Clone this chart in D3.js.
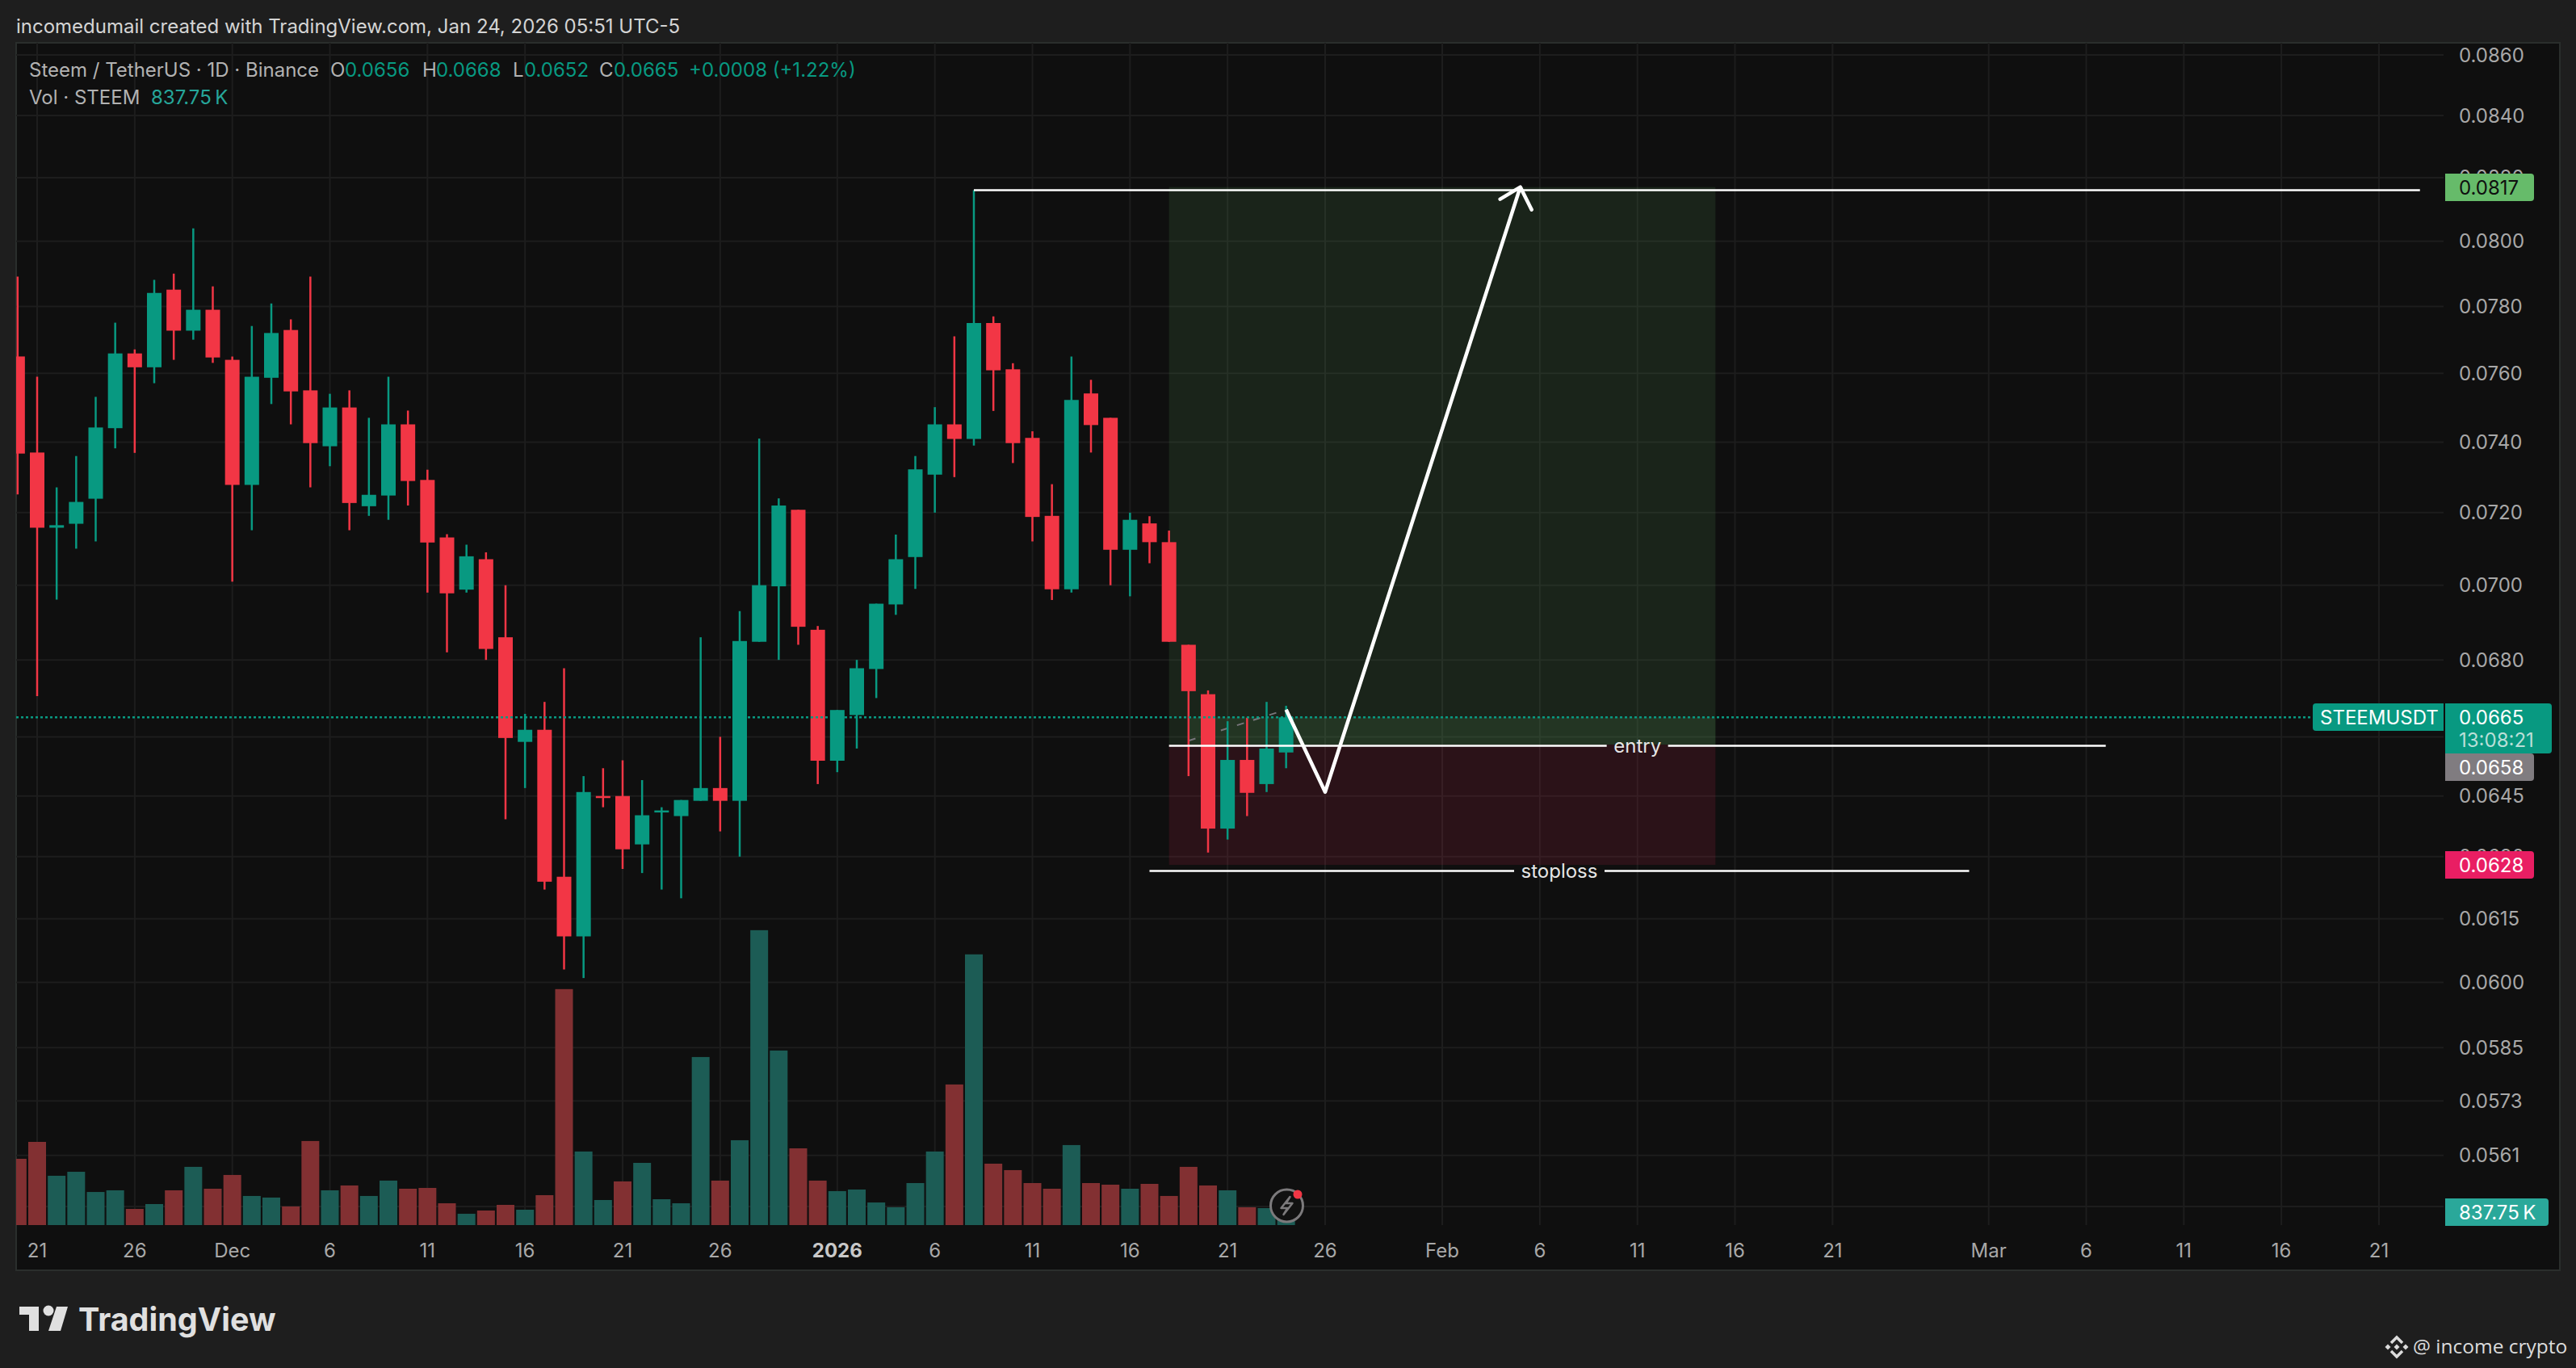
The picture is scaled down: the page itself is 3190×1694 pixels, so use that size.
<!DOCTYPE html>
<html>
<head>
<meta charset="utf-8">
<title>STEEMUSDT</title>
<script src="https://cdnjs.cloudflare.com/ajax/libs/d3/7.8.5/d3.min.js"></script>
<style>
html,body{margin:0;padding:0;background:#1e1e1e;}
svg{display:block;}
text{font-family:Inter,"Noto Sans",sans-serif;}
</style>
</head>
<body>
<svg id="chart" width="3190" height="1694"></svg>
<script>
// candles start one bar before Nov 21 (day -1), so day = index - 1
var opens = [0.0765,0.0737,0.07158,0.07169,0.07239,0.0744,0.07659,0.07618,0.07851,0.07727,0.0779,0.0764,0.07278,0.07587,0.07729,0.0755,0.07388,0.075,0.07218,0.07248,0.07451,0.07292,0.07131,0.06988,0.07071,0.0686,0.06587,0.06618,0.06251,0.06108,0.0645,0.0645,0.0633,0.0641,0.064,0.06438,0.0647,0.06438,0.06848,0.06997,0.07208,0.0688,0.06539,0.06656,0.06776,0.06948,0.07077,0.07307,0.07451,0.07409,0.0775,0.07612,0.07412,0.07191,0.06989,0.07541,0.0747,0.07097,0.0717,0.07118,0.0684,0.0671,0.06369,0.06541,0.0648,0.0656];
var highs = [0.07891,0.0759,0.07271,0.0736,0.07531,0.07751,0.07671,0.07881,0.079,0.0804,0.07861,0.0765,0.07741,0.07809,0.07761,0.07891,0.0754,0.0755,0.0747,0.0759,0.07491,0.07321,0.0714,0.07111,0.0709,0.07,0.06659,0.0669,0.06778,0.065,0.0652,0.0654,0.0649,0.06422,0.0644,0.0686,0.066,0.0693,0.0741,0.0724,0.07208,0.0689,0.06669,0.068,0.0695,0.07139,0.0736,0.07501,0.0771,0.0816,0.0777,0.0763,0.07431,0.0728,0.0765,0.07581,0.0747,0.072,0.0719,0.0715,0.0684,0.0672,0.0664,0.06649,0.0669,0.0668];
var lows = [0.07251,0.06705,0.06961,0.071,0.0712,0.07382,0.07369,0.07571,0.0764,0.077,0.07631,0.0701,0.07151,0.0751,0.07451,0.07271,0.07331,0.07151,0.07191,0.0718,0.0722,0.0698,0.0682,0.0698,0.068,0.06392,0.0647,0.0622,0.0603,0.0601,0.06422,0.0627,0.0626,0.0622,0.06199,0.06438,0.06362,0.063,0.06848,0.068,0.0684,0.0648,0.0651,0.0657,0.067,0.0692,0.0699,0.072,0.073,0.0739,0.0749,0.0734,0.0712,0.0696,0.0698,0.0737,0.07,0.0697,0.0706,0.06848,0.065,0.0631,0.06342,0.064,0.0646,0.0652];
var closes = [0.07367,0.07158,0.07165,0.0723,0.07442,0.07659,0.07618,0.07841,0.07727,0.0779,0.07647,0.07278,0.0759,0.0772,0.07547,0.07397,0.075,0.07227,0.0725,0.07451,0.07289,0.07117,0.06978,0.07079,0.06829,0.06597,0.06618,0.06239,0.06108,0.0646,0.0645,0.06318,0.06402,0.06414,0.0644,0.0647,0.06438,0.0685,0.07,0.0722,0.06888,0.06539,0.06669,0.06778,0.0695,0.07071,0.07322,0.07451,0.07409,0.0775,0.07609,0.07397,0.07188,0.06989,0.07522,0.07449,0.07097,0.0718,0.07118,0.06848,0.06718,0.06369,0.06541,0.06458,0.0657,0.0665];
var volumes = [4166,5230,3100,3350,2080,2185,1015,1320,2185,3660,2285,3150,1830,1730,1170,5285,2185,2490,1830,2795,2285,2335,1370,710,915,1270,965,1880,14835,4625,1575,2745,3910,1625,1370,10565,2795,5335,18540,10975,4825,2795,2135,2235,1420,1120,2640,4625,8840,17020,3860,3455,2640,2285,5030,2640,2540,2285,2590,1830,3660,2490,2185,1120,1065,837.75];

var priceTicks = [0.086,0.084,0.082,0.08,0.078,0.076,0.074,0.072,0.07,0.068,0.066,0.0645,0.063,0.0615,0.06,0.0585,0.0573,0.0561,0.055];
// 0.0660 and 0.0550 have grid lines but their labels sit fully under the price boxes
var priceLabels = [0.086,0.084,0.082,0.08,0.078,0.076,0.074,0.072,0.07,0.068,0.0645,0.063,0.0615,0.06,0.0585,0.0573,0.0561];
var dayTicks = [0,5,10,15,20,25,30,35,41,46,51,56,61,66,72,77,82,87,92,100,105,110,115,120];
var dayLabels = ['21','26','Dec','6','11','16','21','26','2026','6','11','16','21','26','Feb','6','11','16','21','Mar','6','11','16','21'];

var lastPrice = 0.0665;
var targetPrice = 0.0817;
var entryPrice = 0.0658;
var stopPrice = 0.0628;
var positionDays = [58,86];
var targetLineDays = [48,122.1];
var entryLineDays = [58,106];
var stopLineDays = [57,99];
var arrowDays = [64,66,76];
var arrowPrices = [0.0667,0.0646,0.0817];
var ghostDays = [59,64];
var ghostPrices = [0.0659,0.0667];

var legendParts = [
    ['Steem / TetherUS \u00b7 1D \u00b7 Binance',36,'#b2b2b2'],
    ['O',409,'#b2b2b2'],['0.0656',427,'#089981'],
    ['H',523,'#b2b2b2'],['0.0668',540,'#089981'],
    ['L',635,'#b2b2b2'],['0.0652',649,'#089981'],
    ['C',742,'#b2b2b2'],['0.0665',760,'#089981'],
    ['+0.0008 (+1.22%)',853,'#089981']
];

var green = '#089981', red = '#f23645', volGreen = '#1c5c55', volRed = '#823032';
var gridColor = '#1d1d1d', paneColor = '#0f0f0f', textColor = '#a8a8a8';

var paneLeft = 20, paneTop = 53, paneRight = 3170, paneBottom = 1573;
var plotRight = 3026, plotBottom = 1517;

var x = d3.scaleLinear().domain([0,120]).range([46,2946]);
var y = d3.scaleLog().domain([0.086,0.055]).range([68,1494]);
var volH = d3.scaleLinear().domain([0,837.75]).range([0,16.5]);

var svg = d3.select('#chart');

svg.append('rect').attr('width',3190).attr('height',1694).attr('fill','#1e1e1e');
svg.append('text').attr('x',20).attr('y',41).attr('font-size',24).attr('fill','#d4d4d4')
    .text('incomedumail created with TradingView.com, Jan 24, 2026 05:51 UTC-5');

svg.append('rect')
    .attr('x',paneLeft).attr('y',paneTop)
    .attr('width',paneRight-paneLeft).attr('height',paneBottom-paneTop)
    .attr('fill',paneColor).attr('stroke','#2a2e2c').attr('stroke-width',2);

svg.append('clipPath').attr('id','plotClip').append('rect')
    .attr('x',paneLeft).attr('y',paneTop)
    .attr('width',plotRight-paneLeft).attr('height',plotBottom-paneTop);

var plot = svg.append('g').attr('clip-path','url(#plotClip)');

plotGrid();
plotPosition();
plotVolume();
plotGhost();
plotCandles();
plotDrawings();
plotAxisLabels();
plotLegend();
plotFooter();

function plotGrid(){
    plot.selectAll('.hgrid')
        .data(priceTicks)
        .join('line')
        .attr('class','hgrid')
        .attr('x1',paneLeft).attr('x2',plotRight)
        .attr('y1',d => y(d)).attr('y2',d => y(d))
        .attr('stroke',gridColor).attr('stroke-width',2);
    plot.selectAll('.vgrid')
        .data(dayTicks)
        .join('line')
        .attr('class','vgrid')
        .attr('x1',d => x(d)).attr('x2',d => x(d))
        .attr('y1',paneTop).attr('y2',plotBottom)
        .attr('stroke',gridColor).attr('stroke-width',2);
}

function plotPosition(){
    var left = x(positionDays[0]), right = x(positionDays[1]);
    plot.append('rect')
        .attr('x',left).attr('width',right-left)
        .attr('y',y(targetPrice)).attr('height',y(entryPrice)-y(targetPrice))
        .attr('fill','rgb(85,145,85)').attr('fill-opacity',0.17);
    plot.append('rect')
        .attr('x',left).attr('width',right-left)
        .attr('y',y(entryPrice)).attr('height',y(stopPrice)-y(entryPrice))
        .attr('fill','rgb(255,40,90)').attr('fill-opacity',0.117);
    // brighter part between the entry and the last price
    plot.append('rect')
        .attr('x',x(59)).attr('width',right-x(59))
        .attr('y',y(lastPrice)).attr('height',y(entryPrice)-y(lastPrice))
        .attr('fill','rgb(85,145,85)').attr('fill-opacity',0.17);
}

function plotVolume(){
    plot.selectAll('.vol')
        .data(volumes)
        .join('rect')
        .attr('class','vol')
        .attr('x',(d,i) => x(i-1)-11)
        .attr('width',22)
        .attr('y',d => plotBottom-volH(d))
        .attr('height',d => volH(d))
        .attr('fill',(d,i) => closes[i] >= opens[i] ? volGreen : volRed);
}

function plotGhost(){
    plot.append('line')
        .attr('x1',x(ghostDays[0])).attr('x2',x(ghostDays[1]))
        .attr('y1',y(ghostPrices[0])).attr('y2',y(ghostPrices[1]))
        .attr('stroke','#77757a').attr('stroke-width',2)
        .attr('stroke-dasharray','9 12');
}

function candleColor(i){
    if(closes[i] > opens[i]) return green;
    if(closes[i] < opens[i]) return red;
    return i > 0 && closes[i] >= closes[i-1] ? green : red;
}

function plotCandles(){
    plot.selectAll('.wick')
        .data(opens)
        .join('line')
        .attr('class','wick')
        .attr('x1',(d,i) => x(i-1)).attr('x2',(d,i) => x(i-1))
        .attr('y1',(d,i) => y(highs[i])).attr('y2',(d,i) => y(lows[i]))
        .attr('stroke',(d,i) => candleColor(i)).attr('stroke-width',2.5);
    plot.selectAll('.body')
        .data(opens)
        .join('rect')
        .attr('class','body')
        .attr('x',(d,i) => x(i-1)-9)
        .attr('width',18)
        .attr('y',(d,i) => y(Math.max(opens[i],closes[i])))
        .attr('height',(d,i) => Math.max(2.5,Math.abs(y(opens[i])-y(closes[i]))))
        .attr('fill',(d,i) => candleColor(i));
    plot.append('line')
        .attr('x1',paneLeft).attr('x2',2862)
        .attr('y1',y(lastPrice)).attr('y2',y(lastPrice))
        .attr('stroke',green).attr('stroke-width',2.5)
        .attr('stroke-dasharray','3 3');
}

function labelledLine(days,price,label,gap){
    var x1 = x(days[0]), x2 = x(days[1]), mid = (x1+x2)/2, py = y(price);
    [[x1,mid-gap],[mid+gap,x2]].forEach(function(seg){
        plot.append('line')
            .attr('x1',seg[0]).attr('x2',seg[1])
            .attr('y1',py).attr('y2',py)
            .attr('stroke','#fff').attr('stroke-width',2.5);
    });
    plot.append('text')
        .attr('x',mid).attr('y',py+8)
        .attr('text-anchor','middle')
        .attr('font-size',24).attr('fill','#e6e6e6')
        .text(label);
}

function plotDrawings(){
    plot.append('line')
        .attr('x1',x(targetLineDays[0])).attr('x2',x(targetLineDays[1]))
        .attr('y1',y(0.0816)).attr('y2',y(0.0816))
        .attr('stroke','#fff').attr('stroke-width',2.5);
    labelledLine(entryLineDays,0.06577,'entry',38);
    labelledLine(stopLineDays,0.06265,'stoploss',56);

    var line = d3.line().x(d => x(d[0])).y(d => y(d[1]));
    var pts = arrowDays.map((d,i) => [d,arrowPrices[i]]);
    plot.append('path')
        .attr('d',line(pts))
        .attr('fill','none').attr('stroke','#fff')
        .attr('stroke-width',4.5).attr('stroke-linejoin','round');
    // arrow head, sized in pixels from the tip
    var tipX = x(arrowDays[2]), tipY = y(arrowPrices[2]);
    plot.append('path')
        .attr('d',d3.line()([[tipX-25,tipY+15],[tipX,tipY],[tipX+14,tipY+28]]))
        .attr('fill','none').attr('stroke','#fff')
        .attr('stroke-width',4.5).attr('stroke-linecap','round').attr('stroke-linejoin','round');
}

function priceBox(left,top,right,bottom,fill,label,labelColor){
    svg.append('path')
        .attr('d','M'+left+','+top+'H'+(right-4)+'Q'+right+','+top+' '+right+','+(top+4)
            +'V'+(bottom-4)+'Q'+right+','+bottom+' '+(right-4)+','+bottom+'H'+left+'Z')
        .attr('fill',fill);
    svg.append('text')
        .attr('x',3045).attr('y',top+25.5)
        .attr('font-size',24).attr('fill',labelColor)
        .text(label);
}

function plotAxisLabels(){
    svg.selectAll('.priceTick')
        .data(priceLabels)
        .join('text')
        .attr('class','priceTick')
        .attr('x',3045)
        .attr('y',d => y(d)+8.5)
        .attr('font-size',24).attr('fill',textColor)
        .text(d => d.toFixed(4));

    svg.selectAll('.dayTick')
        .data(dayTicks)
        .join('text')
        .attr('class','dayTick')
        .attr('x',d => x(d))
        .attr('y',1557)
        .attr('text-anchor','middle')
        .attr('font-size',24)
        .attr('font-weight',(d,i) => dayLabels[i] == '2026' ? 700 : 400)
        .attr('fill',(d,i) => dayLabels[i] == '2026' ? '#c8c8c8' : textColor)
        .text((d,i) => dayLabels[i]);

    // price labels on the axis
    priceBox(3028,215,3138,249,'#66bb6a',targetPrice.toFixed(4),'#0f0f0f');
    priceBox(3028,871,3160,933,green,lastPrice.toFixed(4),'#fff');
    svg.append('text').attr('x',3045).attr('y',925).attr('font-size',24)
        .attr('fill','#b9dfd8').text('13:08:21');
    priceBox(3028,933,3138,967,'#807c80',entryPrice.toFixed(4),'#fff');
    priceBox(3028,1054,3138,1088,'#e91e63',stopPrice.toFixed(4),'#fff');
    priceBox(3028,1484,3156,1518,'#2aa89a','837.75\u2009K','#fff');

    svg.append('path')
        .attr('d','M2868,871H3026V905H2868Q2864,905 2864,901V875Q2864,871 2868,871Z')
        .attr('fill',green);
    svg.append('text').attr('x',2873).attr('y',896.5).attr('font-size',24)
        .attr('fill','#fff').text('STEEMUSDT');
}

function plotLegend(){
    svg.selectAll('.legend')
        .data(legendParts)
        .join('text')
        .attr('class','legend')
        .attr('x',d => d[1]).attr('y',95)
        .attr('font-size',24)
        .attr('fill',d => d[2])
        .text(d => d[0]);
    svg.append('text').attr('x',36).attr('y',129).attr('font-size',24)
        .attr('fill','#b2b2b2').text('Vol \u00b7 STEEM');
    svg.append('text').attr('x',187).attr('y',129).attr('font-size',24)
        .attr('fill','#26a69a').text('837.75\u2009K');
}

function plotFooter(){
    // flash icon sitting on the last volume bar
    var icon = svg.append('g').attr('transform','translate(1593.5,1493)');
    icon.append('circle').attr('r',20).attr('fill','#111')
        .attr('stroke','#7c7a7c').attr('stroke-width',3);
    icon.append('path')
        .attr('d','M4,-11L-7,3H1L-4,11L7,-3H-1Z')
        .attr('fill','none').attr('stroke','#7c7a7c').attr('stroke-width',2.5)
        .attr('stroke-linejoin','round');
    icon.append('circle').attr('cx',13.5).attr('cy',-14).attr('r',5.5).attr('fill',red);

    // TradingView logo
    var logo = svg.append('g').attr('fill','#e0e0e0');
    logo.append('path').attr('d','M24,1618H48V1648H36V1628H24Z');
    logo.append('circle').attr('cx',60).attr('cy',1623).attr('r',6.5);
    logo.append('path').attr('d','M70,1618H84L75,1648H60Z');
    logo.append('text').attr('x',97).attr('y',1648)
        .attr('font-size',39.5).attr('font-weight',700).text('TradingView');

    // binance square tag
    var tag = svg.append('g').attr('transform','translate(2968,1668)');
    tag.append('path').attr('d','M-7,-5L0,-12L7,-5M-7,5L0,12L7,5')
        .attr('fill','none').attr('stroke','#dcdcdc').attr('stroke-width',3.5);
    [[-11,0],[11,0],[0,0]].forEach(function(p){
        tag.append('path').attr('d','M'+(p[0]-3.5)+',0L'+p[0]+',-3.5L'+(p[0]+3.5)+',0L'+p[0]+',3.5Z')
            .attr('fill','#dcdcdc');
    });
    svg.append('text').attr('x',2988).attr('y',1676)
        .style('font-family','"Open Sans"').attr('font-size',24.5)
        .attr('fill','#dcdcdc').text('@ income crypto');
}
</script>
</body>
</html>
